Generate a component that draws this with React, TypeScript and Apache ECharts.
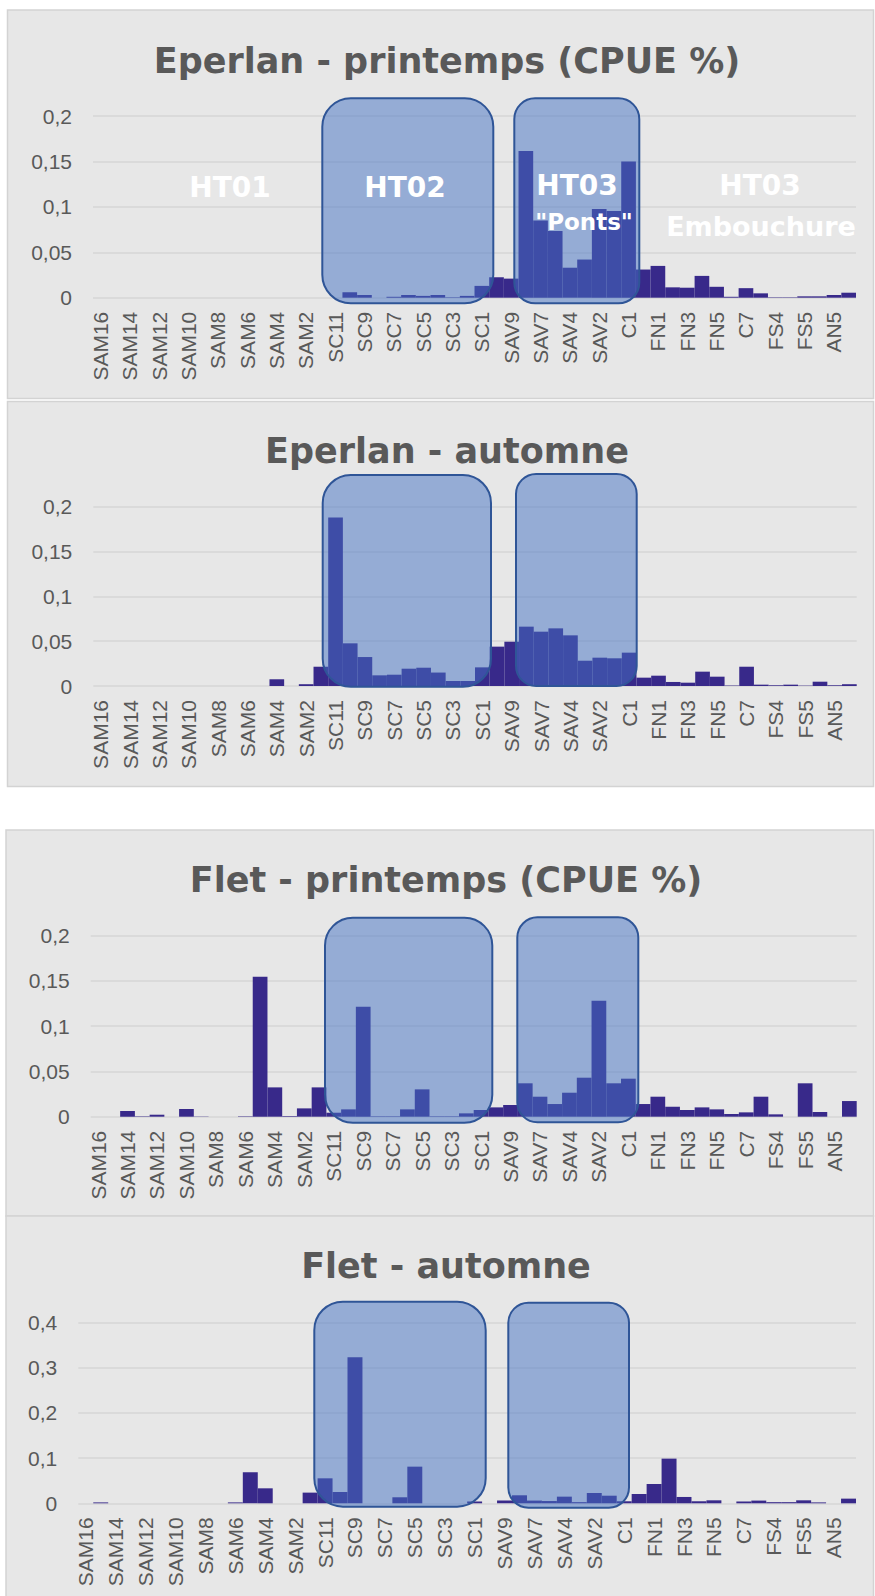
import React, { useEffect, useRef } from "react";
import * as echarts from "echarts";

// ---------------- DATA ----------------
const categories = [
  "SAM16", "SAM15", "SAM14", "SAM13", "SAM12", "SAM11", "SAM10", "SAM9",
  "SAM8", "SAM7", "SAM6", "SAM5", "SAM4", "SAM3", "SAM2", "SAM1",
  "SC11", "SC10", "SC9", "SC8", "SC7", "SC6", "SC5", "SC4", "SC3", "SC2", "SC1",
  "SAV10", "SAV9", "SAV8", "SAV7", "SAV5", "SAV4", "SAV3", "SAV2", "SAV1",
  "C1", "C3", "FN1", "FN2", "FN3", "FN4", "FN5", "C5", "C7", "FS2", "FS4",
  "FS6", "FS5", "AN4", "AN5", "AN6",
];

const eperlanPrintemps = [
  0, 0, 0, 0, 0, 0, 0, 0, 0, 0, 0, 0, 0, 0, 0, 0,
  0, 0.006, 0.003, 0, 0.001, 0.003, 0.002, 0.003, 0.0005, 0.002, 0.013,
  0.0225, 0.021, 0.1615, 0.085, 0.0735, 0.033, 0.042, 0.0976, 0.0954,
  0.15, 0.031, 0.035, 0.0114, 0.011, 0.024, 0.012, 0.001, 0.0105, 0.0048, 0.0005,
  0.0005, 0.0015, 0.0015, 0.003, 0.0055,
];

const eperlanAutomne = [
  0, 0, 0, 0, 0, 0, 0, 0, 0, 0, 0, 0, 0.0075, 0, 0.002, 0.0215,
  0.188, 0.0476, 0.0323, 0.0119, 0.0126, 0.0193, 0.0204, 0.015, 0.0056, 0.0056, 0.0208,
  0.0439, 0.0494, 0.0662, 0.0606, 0.0643, 0.0565, 0.0282, 0.0316, 0.0309,
  0.0372, 0.0093, 0.0115, 0.0045, 0.0037, 0.016, 0.0104, 0.0005, 0.0215, 0.0015, 0.0008,
  0.0015, 0.0004, 0.0048, 0.0008, 0.002,
];

const fletPrintemps = [
  0, 0, 0.0063, 0.0005, 0.0022, 0, 0.0085, 0.0003, 0, 0, 0.0005, 0.1547, 0.0324, 0.0007, 0.0092, 0.0324,
  0.0044, 0.0081, 0.1215, 0.0005, 0.0005, 0.0081, 0.0302, 0.0005, 0.0005, 0.0037, 0.0074,
  0.0103, 0.0129, 0.0369, 0.0221, 0.014, 0.0265, 0.0431, 0.1282, 0.0369,
  0.042, 0.014, 0.0221, 0.011, 0.0074, 0.0103, 0.0081, 0.003, 0.0048, 0.0221, 0.0026,
  0, 0.0369, 0.0052, 0, 0.0173,
];

const fletAutomne = [
  0, 0.002, 0, 0, 0, 0, 0, 0, 0, 0, 0.002, 0.0685, 0.0331, 0, 0, 0.0236,
  0.0552, 0.025, 0.3226, 0, 0, 0.0133, 0.081, 0, 0, 0, 0.004,
  0, 0.006, 0.0177, 0.006, 0.005, 0.0147, 0.0025, 0.0228, 0.0168,
  0.0045, 0.0206, 0.0427, 0.0987, 0.014, 0.0045, 0.0066, 0, 0.004, 0.006, 0.0025,
  0.0025, 0.0066, 0.002, 0, 0.0103,
];

const titles = [
  "Eperlan - printemps (CPUE %)",
  "Eperlan - automne",
  "Flet - printemps (CPUE %)",
  "Flet - automne",
];

const yMax = [0.2, 0.2, 0.2, 0.4];
const yInterval = [0.05, 0.05, 0.05, 0.1];

// ---------------- STYLE / LAYOUT ----------------
const BAR = "#38298A";
const GREY_TEXT = "#595959";
const PANEL_BG = "#e7e7e7";
const PANEL_BORDER = "#d3d3d3";
const OVERLAY_FILL = "rgba(68,114,196,0.5)";
const OVERLAY_STROKE = "#2F5597";
const TITLE_FONT = 'bold 35px "DejaVu Sans", sans-serif';

const grids = [
  { left: 93, top: 116, width: 763, height: 181.7 },
  { left: 93.3, top: 506.7, width: 763.4, height: 179.3 },
  { left: 90.7, top: 935.7, width: 766, height: 181 },
  { left: 78.3, top: 1322.3, width: 777.7, height: 181 },
];

const panelRects = [
  { x: 7.5, y: 10, width: 866, height: 388.5 },
  { x: 7.5, y: 401.5, width: 866, height: 385 },
  { x: 6, y: 830, width: 867.5, height: 386 },
  { x: 6, y: 1216, width: 867.5, height: 390 },
];

const titlePos = [
  { x: 447, y: 61 },
  { x: 447, y: 451 },
  { x: 446, y: 880 },
  { x: 446, y: 1266 },
];

// overlays: [x, y, w, h]
const overlays = [
  [322.3, 98.3, 171, 205],
  [514.3, 98.3, 125, 205],
  [322.7, 475, 168.3, 211.7],
  [516, 474, 120.7, 212],
  [325, 917.7, 167.3, 205],
  [517.3, 917.3, 121, 205],
  [314.3, 1301.7, 171.4, 205],
  [508.3, 1302.7, 120.7, 205],
];

const zoneLabels = [
  { text: "HT01", x: 230, y: 187, size: 28 },
  { text: "HT02", x: 405, y: 187, size: 28 },
  { text: "HT03", x: 577, y: 185, size: 28 },
  { text: '"Ponts"', x: 584, y: 222, size: 23 },
  { text: "HT03", x: 760, y: 185, size: 28 },
  { text: "Embouchure", x: 761, y: 226, size: 27 },
];

const fmtY = (v: number) =>
  (Math.round(v * 1000) / 1000).toString().replace(".", ",");

export default function App() {
  const ref = useRef<HTMLDivElement>(null);

  useEffect(() => {
    if (!ref.current) return;
    const chart = echarts.init(ref.current, undefined, { renderer: "svg" });
    const seriesData = [eperlanPrintemps, eperlanAutomne, fletPrintemps, fletAutomne];

    const graphic: any[] = [];
    panelRects.forEach((p) => {
      graphic.push({
        type: "rect",
        silent: true,
        z: -10,
        shape: { ...p },
        style: { fill: PANEL_BG, stroke: PANEL_BORDER, lineWidth: 1.5 },
      });
    });
    titles.forEach((t, i) => {
      graphic.push({
        type: "text",
        silent: true,
        z: 60,
        x: titlePos[i].x,
        y: titlePos[i].y,
        style: {
          text: t,
          fill: GREY_TEXT,
          font: TITLE_FONT,
          align: "center",
          verticalAlign: "middle",
          textAlign: "center",
          textVerticalAlign: "middle",
        },
      });
    });
    overlays.forEach(([x, y, w, h]) => {
      graphic.push({
        type: "rect",
        silent: true,
        z: 50,
        shape: { x, y, width: w, height: h, r: Math.min(w, h) * 0.1667 },
        style: { fill: OVERLAY_FILL, stroke: OVERLAY_STROKE, lineWidth: 2 },
      });
    });
    zoneLabels.forEach((l) => {
      graphic.push({
        type: "text",
        silent: true,
        z: 70,
        x: l.x,
        y: l.y,
        style: {
          text: l.text,
          fill: "#ffffff",
          font: `bold ${l.size}px "DejaVu Sans", sans-serif`,
          align: "center",
          verticalAlign: "middle",
          textAlign: "center",
          textVerticalAlign: "middle",
        },
      });
    });

    const option: any = {
      animation: false,
      backgroundColor: "#ffffff",
      grid: grids.map((g) => ({ ...g, containLabel: false })),
      xAxis: grids.map((_, i) => ({
        type: "category",
        gridIndex: i,
        data: categories,
        axisLine: { show: false },
        axisTick: { show: false },
        axisLabel: {
          interval: 1,
          rotate: 90,
          margin: 14,
          fontSize: 21,
          color: GREY_TEXT,
          fontFamily: '"Liberation Sans", Arial, sans-serif',
        },
      })),
      yAxis: grids.map((_, i) => ({
        type: "value",
        gridIndex: i,
        min: 0,
        max: yMax[i],
        interval: yInterval[i],
        axisLine: { show: false },
        axisTick: { show: false },
        splitLine: { show: true, lineStyle: { color: "#d6d6d6", width: 1.5 } },
        axisLabel: {
          margin: 21,
          fontSize: 21,
          color: GREY_TEXT,
          fontFamily: '"Liberation Sans", Arial, sans-serif',
          formatter: fmtY,
        },
      })),
      series: seriesData.map((d, i) => ({
        type: "bar",
        xAxisIndex: i,
        yAxisIndex: i,
        data: d,
        barCategoryGap: "0%",
        itemStyle: { color: BAR },
        silent: true,
      })),
      graphic,
    };

    chart.setOption(option);
    return () => chart.dispose();
  }, []);

  return (
    <div
      ref={ref}
      style={{ position: "absolute", left: 0, top: 0, width: 875, height: 1596 }}
    />
  );
}
